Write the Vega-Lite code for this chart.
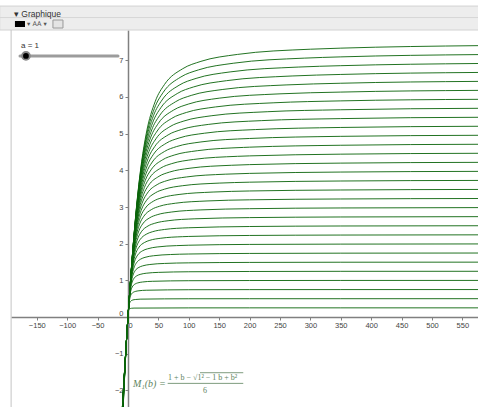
{
  "$schema": "https://vega.github.io/schema/vega-lite/v6.json",
  "width": 467,
  "height": 377,
  "autosize": {"type": "none"},
  "padding": {"left": 11, "top": 30, "right": 0, "bottom": 0},
  "background": "white",
  "config": {"view": {"stroke": null}, "axis": {"labelOverlap": false, "labelSeparation": 0}},
  "layer": [
    {
      "data": {"values": [
{"i":1,"b":-10,"m":-3.256},{"i":1,"b":0,"m":0},{"i":1,"b":0.25,"m":0.058},{"i":1,"b":0.5,"m":0.106},{"i":1,"b":0.75,"m":0.141},{"i":1,"b":1,"m":0.167},{"i":1,"b":1.5,"m":0.196},{"i":1,"b":2,"m":0.211},{"i":1,"b":3,"m":0.226},{"i":1,"b":4,"m":0.232},{"i":1,"b":6,"m":0.239},{"i":1,"b":10,"m":0.243},{"i":1,"b":100,"m":0.249},{"i":1,"b":200,"m":0.250},{"i":1,"b":350,"m":0.250},{"i":1,"b":580,"m":0.250},
{"i":2,"b":-10,"m":-3.189},{"i":2,"b":0,"m":0},{"i":2,"b":0.5,"m":0.116},{"i":2,"b":1,"m":0.211},{"i":2,"b":1.5,"m":0.283},{"i":2,"b":2,"m":0.333},{"i":2,"b":3,"m":0.392},{"i":2,"b":4,"m":0.423},{"i":2,"b":6,"m":0.451},{"i":2,"b":8,"m":0.465},{"i":2,"b":12,"m":0.477},{"i":2,"b":20,"m":0.487},{"i":2,"b":100,"m":0.498},{"i":2,"b":200,"m":0.499},{"i":2,"b":350,"m":0.499},{"i":2,"b":580,"m":0.5},
{"i":3,"b":-10,"m":-3.132},{"i":3,"b":0,"m":0},{"i":3,"b":0.75,"m":0.174},{"i":3,"b":1.5,"m":0.317},{"i":3,"b":2.25,"m":0.424},{"i":3,"b":3,"m":0.5},{"i":3,"b":4.5,"m":0.589},{"i":3,"b":6,"m":0.634},{"i":3,"b":9,"m":0.677},{"i":3,"b":12,"m":0.697},{"i":3,"b":18,"m":0.716},{"i":3,"b":30,"m":0.730},{"i":3,"b":100,"m":0.744},{"i":3,"b":200,"m":0.747},{"i":3,"b":350,"m":0.748},{"i":3,"b":580,"m":0.749},
{"i":4,"b":-10,"m":-3.082},{"i":4,"b":0,"m":0},{"i":4,"b":1,"m":0.232},{"i":4,"b":2,"m":0.423},{"i":4,"b":3,"m":0.566},{"i":4,"b":4,"m":0.667},{"i":4,"b":6,"m":0.785},{"i":4,"b":8,"m":0.845},{"i":4,"b":12,"m":0.903},{"i":4,"b":16,"m":0.930},{"i":4,"b":24,"m":0.955},{"i":4,"b":40,"m":0.974},{"i":4,"b":100,"m":0.990},{"i":4,"b":200,"m":0.995},{"i":4,"b":350,"m":0.997},{"i":4,"b":580,"m":0.998},
{"i":5,"b":-10,"m":-3.038},{"i":5,"b":0,"m":0},{"i":5,"b":1.25,"m":0.291},{"i":5,"b":2.5,"m":0.528},{"i":5,"b":3.75,"m":0.707},{"i":5,"b":5,"m":0.833},{"i":5,"b":7.5,"m":0.981},{"i":5,"b":10,"m":1.057},{"i":5,"b":15,"m":1.129},{"i":5,"b":20,"m":1.162},{"i":5,"b":30,"m":1.194},{"i":5,"b":50,"m":1.217},{"i":5,"b":100,"m":1.234},{"i":5,"b":200,"m":1.242},{"i":5,"b":350,"m":1.246},{"i":5,"b":580,"m":1.247},
{"i":6,"b":-10,"m":-3.0},{"i":6,"b":0,"m":0},{"i":6,"b":1.5,"m":0.349},{"i":6,"b":3,"m":0.634},{"i":6,"b":4.5,"m":0.849},{"i":6,"b":6,"m":1.0},{"i":6,"b":9,"m":1.177},{"i":6,"b":12,"m":1.268},{"i":6,"b":18,"m":1.354},{"i":6,"b":24,"m":1.394},{"i":6,"b":36,"m":1.432},{"i":6,"b":60,"m":1.461},{"i":6,"b":100,"m":1.477},{"i":6,"b":200,"m":1.489},{"i":6,"b":350,"m":1.494},{"i":6,"b":580,"m":1.496},
{"i":7,"b":-10,"m":-2.966},{"i":7,"b":0,"m":0},{"i":7,"b":1.75,"m":0.407},{"i":7,"b":3.5,"m":0.740},{"i":7,"b":5.25,"m":0.990},{"i":7,"b":7,"m":1.167},{"i":7,"b":10.5,"m":1.373},{"i":7,"b":14,"m":1.479},{"i":7,"b":21,"m":1.580},{"i":7,"b":28,"m":1.627},{"i":7,"b":42,"m":1.671},{"i":7,"b":70,"m":1.704},{"i":7,"b":100,"m":1.718},{"i":7,"b":200,"m":1.734},{"i":7,"b":350,"m":1.741},{"i":7,"b":580,"m":1.745},
{"i":8,"b":-10,"m":-2.937},{"i":8,"b":0,"m":0},{"i":8,"b":2,"m":0.465},{"i":8,"b":4,"m":0.845},{"i":8,"b":6,"m":1.131},{"i":8,"b":8,"m":1.333},{"i":8,"b":12,"m":1.569},{"i":8,"b":16,"m":1.691},{"i":8,"b":24,"m":1.806},{"i":8,"b":32,"m":1.859},{"i":8,"b":48,"m":1.910},{"i":8,"b":80,"m":1.947},{"i":8,"b":100,"m":1.958},{"i":8,"b":200,"m":1.980},{"i":8,"b":350,"m":1.988},{"i":8,"b":580,"m":1.993},
{"i":9,"b":-10,"m":-2.910},{"i":9,"b":0,"m":0},{"i":9,"b":2.25,"m":0.523},{"i":9,"b":4.5,"m":0.951},{"i":9,"b":6.75,"m":1.273},{"i":9,"b":9,"m":1.5},{"i":9,"b":13.5,"m":1.766},{"i":9,"b":18,"m":1.902},{"i":9,"b":27,"m":2.031},{"i":9,"b":36,"m":2.092},{"i":9,"b":54,"m":2.148},{"i":9,"b":90,"m":2.191},{"i":9,"b":100,"m":2.197},{"i":9,"b":200,"m":2.224},{"i":9,"b":350,"m":2.235},{"i":9,"b":580,"m":2.241},
{"i":10,"b":-10,"m":-2.887},{"i":10,"b":0,"m":0},{"i":10,"b":2.5,"m":0.581},{"i":10,"b":5,"m":1.057},{"i":10,"b":7.5,"m":1.414},{"i":10,"b":10,"m":1.667},{"i":10,"b":15,"m":1.962},{"i":10,"b":20,"m":2.113},{"i":10,"b":30,"m":2.257},{"i":10,"b":40,"m":2.324},{"i":10,"b":60,"m":2.387},{"i":10,"b":100,"m":2.434},{"i":10,"b":200,"m":2.468},{"i":10,"b":350,"m":2.482},{"i":10,"b":580,"m":2.489},
{"i":11,"b":-10,"m":-2.866},{"i":11,"b":0,"m":0},{"i":11,"b":2.75,"m":0.639},{"i":11,"b":5.5,"m":1.162},{"i":11,"b":8.25,"m":1.556},{"i":11,"b":11,"m":1.833},{"i":11,"b":16.5,"m":2.158},{"i":11,"b":22,"m":2.325},{"i":11,"b":33,"m":2.483},{"i":11,"b":44,"m":2.556},{"i":11,"b":66,"m":2.626},{"i":11,"b":110,"m":2.678},{"i":11,"b":200,"m":2.711},{"i":11,"b":350,"m":2.728},{"i":11,"b":580,"m":2.737},
{"i":12,"b":-10,"m":-2.847},{"i":12,"b":0,"m":0},{"i":12,"b":3,"m":0.697},{"i":12,"b":6,"m":1.268},{"i":12,"b":9,"m":1.697},{"i":12,"b":12,"m":2.0},{"i":12,"b":18,"m":2.354},{"i":12,"b":24,"m":2.536},{"i":12,"b":36,"m":2.708},{"i":12,"b":48,"m":2.789},{"i":12,"b":72,"m":2.864},{"i":12,"b":120,"m":2.921},{"i":12,"b":200,"m":2.954},{"i":12,"b":350,"m":2.974},{"i":12,"b":580,"m":2.984},
{"i":13,"b":-10,"m":-2.829},{"i":13,"b":0,"m":0},{"i":13,"b":3.25,"m":0.755},{"i":13,"b":6.5,"m":1.374},{"i":13,"b":9.75,"m":1.839},{"i":13,"b":13,"m":2.167},{"i":13,"b":19.5,"m":2.550},{"i":13,"b":26,"m":2.747},{"i":13,"b":39,"m":2.934},{"i":13,"b":52,"m":3.021},{"i":13,"b":78,"m":3.103},{"i":13,"b":130,"m":3.165},{"i":13,"b":200,"m":3.196},{"i":13,"b":350,"m":3.219},{"i":13,"b":580,"m":3.232},
{"i":14,"b":-10,"m":-2.813},{"i":14,"b":0,"m":0},{"i":14,"b":3.5,"m":0.813},{"i":14,"b":7,"m":1.479},{"i":14,"b":10.5,"m":1.980},{"i":14,"b":14,"m":2.333},{"i":14,"b":21,"m":2.747},{"i":14,"b":28,"m":2.959},{"i":14,"b":42,"m":3.160},{"i":14,"b":56,"m":3.254},{"i":14,"b":84,"m":3.342},{"i":14,"b":140,"m":3.408},{"i":14,"b":200,"m":3.437},{"i":14,"b":350,"m":3.464},{"i":14,"b":580,"m":3.479},
{"i":15,"b":-10,"m":-2.799},{"i":15,"b":0,"m":0},{"i":15,"b":3.75,"m":0.872},{"i":15,"b":7.5,"m":1.585},{"i":15,"b":11.25,"m":2.122},{"i":15,"b":15,"m":2.5},{"i":15,"b":22.5,"m":2.943},{"i":15,"b":30,"m":3.170},{"i":15,"b":45,"m":3.386},{"i":15,"b":60,"m":3.486},{"i":15,"b":90,"m":3.581},{"i":15,"b":150,"m":3.652},{"i":15,"b":200,"m":3.677},{"i":15,"b":350,"m":3.709},{"i":15,"b":580,"m":3.725},
{"i":16,"b":-10,"m":-2.786},{"i":16,"b":0,"m":0},{"i":16,"b":4,"m":0.930},{"i":16,"b":8,"m":1.691},{"i":16,"b":12,"m":2.263},{"i":16,"b":16,"m":2.667},{"i":16,"b":24,"m":3.139},{"i":16,"b":32,"m":3.381},{"i":16,"b":48,"m":3.611},{"i":16,"b":64,"m":3.719},{"i":16,"b":96,"m":3.819},{"i":16,"b":160,"m":3.895},{"i":16,"b":200,"m":3.917},{"i":16,"b":350,"m":3.953},{"i":16,"b":580,"m":3.972},
{"i":17,"b":-10,"m":-2.774},{"i":17,"b":0,"m":0},{"i":17,"b":4.25,"m":0.988},{"i":17,"b":8.5,"m":1.796},{"i":17,"b":12.75,"m":2.404},{"i":17,"b":17,"m":2.833},{"i":17,"b":25.5,"m":3.335},{"i":17,"b":34,"m":3.593},{"i":17,"b":51,"m":3.837},{"i":17,"b":68,"m":3.951},{"i":17,"b":102,"m":4.058},{"i":17,"b":170,"m":4.138},{"i":17,"b":200,"m":4.156},{"i":17,"b":350,"m":4.197},{"i":17,"b":580,"m":4.218},
{"i":18,"b":-10,"m":-2.763},{"i":18,"b":0,"m":0},{"i":18,"b":4.5,"m":1.046},{"i":18,"b":9,"m":1.902},{"i":18,"b":13.5,"m":2.546},{"i":18,"b":18,"m":3.0},{"i":18,"b":27,"m":3.531},{"i":18,"b":36,"m":3.804},{"i":18,"b":54,"m":4.063},{"i":18,"b":72,"m":4.183},{"i":18,"b":108,"m":4.297},{"i":18,"b":180,"m":4.382},{"i":18,"b":200,"m":4.394},{"i":18,"b":350,"m":4.441},{"i":18,"b":580,"m":4.465},
{"i":19,"b":-10,"m":-2.752},{"i":19,"b":0,"m":0},{"i":19,"b":4.75,"m":1.104},{"i":19,"b":9.5,"m":2.008},{"i":19,"b":14.25,"m":2.687},{"i":19,"b":19,"m":3.167},{"i":19,"b":28.5,"m":3.728},{"i":19,"b":38,"m":4.015},{"i":19,"b":57,"m":4.288},{"i":19,"b":76,"m":4.416},{"i":19,"b":114,"m":4.535},{"i":19,"b":190,"m":4.625},{"i":19,"b":200,"m":4.632},{"i":19,"b":350,"m":4.684},{"i":19,"b":580,"m":4.711},
{"i":20,"b":-10,"m":-2.743},{"i":20,"b":0,"m":0},{"i":20,"b":5,"m":1.162},{"i":20,"b":10,"m":2.113},{"i":20,"b":15,"m":2.829},{"i":20,"b":20,"m":3.333},{"i":20,"b":30,"m":3.924},{"i":20,"b":40,"m":4.227},{"i":20,"b":60,"m":4.514},{"i":20,"b":80,"m":4.648},{"i":20,"b":120,"m":4.774},{"i":20,"b":200,"m":4.869},{"i":20,"b":350,"m":4.927},{"i":20,"b":580,"m":4.956},
{"i":21,"b":-10,"m":-2.734},{"i":21,"b":0,"m":0},{"i":21,"b":5.25,"m":1.220},{"i":21,"b":10.5,"m":2.219},{"i":21,"b":15.75,"m":2.970},{"i":21,"b":21,"m":3.5},{"i":21,"b":31.5,"m":4.120},{"i":21,"b":42,"m":4.438},{"i":21,"b":63,"m":4.740},{"i":21,"b":84,"m":4.881},{"i":21,"b":126,"m":5.013},{"i":21,"b":210,"m":5.112},{"i":21,"b":350,"m":5.169},{"i":21,"b":580,"m":5.202},
{"i":22,"b":-10,"m":-2.726},{"i":22,"b":0,"m":0},{"i":22,"b":5.5,"m":1.278},{"i":22,"b":11,"m":2.325},{"i":22,"b":16.5,"m":3.112},{"i":22,"b":22,"m":3.667},{"i":22,"b":33,"m":4.316},{"i":22,"b":44,"m":4.649},{"i":22,"b":66,"m":4.966},{"i":22,"b":88,"m":5.113},{"i":22,"b":132,"m":5.252},{"i":22,"b":220,"m":5.356},{"i":22,"b":350,"m":5.411},{"i":22,"b":580,"m":5.447},
{"i":23,"b":-10,"m":-2.718},{"i":23,"b":0,"m":0},{"i":23,"b":5.75,"m":1.336},{"i":23,"b":11.5,"m":2.430},{"i":23,"b":17.25,"m":3.253},{"i":23,"b":23,"m":3.833},{"i":23,"b":34.5,"m":4.512},{"i":23,"b":46,"m":4.860},{"i":23,"b":69,"m":5.191},{"i":23,"b":92,"m":5.345},{"i":23,"b":138,"m":5.490},{"i":23,"b":230,"m":5.599},{"i":23,"b":350,"m":5.652},{"i":23,"b":580,"m":5.692},
{"i":24,"b":-10,"m":-2.711},{"i":24,"b":0,"m":0},{"i":24,"b":6,"m":1.394},{"i":24,"b":12,"m":2.536},{"i":24,"b":18,"m":3.394},{"i":24,"b":24,"m":4.0},{"i":24,"b":36,"m":4.708},{"i":24,"b":48,"m":5.072},{"i":24,"b":72,"m":5.417},{"i":24,"b":96,"m":5.578},{"i":24,"b":144,"m":5.729},{"i":24,"b":240,"m":5.842},{"i":24,"b":350,"m":5.894},{"i":24,"b":580,"m":5.937},
{"i":25,"b":-10,"m":-2.704},{"i":25,"b":0,"m":0},{"i":25,"b":6.25,"m":1.453},{"i":25,"b":12.5,"m":2.642},{"i":25,"b":18.75,"m":3.536},{"i":25,"b":25,"m":4.167},{"i":25,"b":37.5,"m":4.905},{"i":25,"b":50,"m":5.283},{"i":25,"b":75,"m":5.643},{"i":25,"b":100,"m":5.810},{"i":25,"b":150,"m":5.968},{"i":25,"b":250,"m":6.086},{"i":25,"b":350,"m":6.134},{"i":25,"b":580,"m":6.181},
{"i":26,"b":-10,"m":-2.698},{"i":26,"b":0,"m":0},{"i":26,"b":6.5,"m":1.511},{"i":26,"b":13,"m":2.747},{"i":26,"b":19.5,"m":3.677},{"i":26,"b":26,"m":4.333},{"i":26,"b":39,"m":5.101},{"i":26,"b":52,"m":5.494},{"i":26,"b":78,"m":5.868},{"i":26,"b":104,"m":6.043},{"i":26,"b":156,"m":6.206},{"i":26,"b":260,"m":6.329},{"i":26,"b":350,"m":6.375},{"i":26,"b":580,"m":6.426},
{"i":27,"b":-10,"m":-2.692},{"i":27,"b":0,"m":0},{"i":27,"b":6.75,"m":1.569},{"i":27,"b":13.5,"m":2.853},{"i":27,"b":20.25,"m":3.819},{"i":27,"b":27,"m":4.5},{"i":27,"b":40.5,"m":5.297},{"i":27,"b":54,"m":5.706},{"i":27,"b":81,"m":6.094},{"i":27,"b":108,"m":6.275},{"i":27,"b":162,"m":6.445},{"i":27,"b":270,"m":6.573},{"i":27,"b":350,"m":6.615},{"i":27,"b":580,"m":6.670},
{"i":28,"b":-10,"m":-2.686},{"i":28,"b":0,"m":0},{"i":28,"b":7,"m":1.627},{"i":28,"b":14,"m":2.959},{"i":28,"b":21,"m":3.960},{"i":28,"b":28,"m":4.667},{"i":28,"b":42,"m":5.493},{"i":28,"b":56,"m":5.917},{"i":28,"b":84,"m":6.320},{"i":28,"b":112,"m":6.507},{"i":28,"b":168,"m":6.684},{"i":28,"b":280,"m":6.816},{"i":28,"b":350,"m":6.854},{"i":28,"b":580,"m":6.914},
{"i":29,"b":-10,"m":-2.681},{"i":29,"b":0,"m":0},{"i":29,"b":7.25,"m":1.685},{"i":29,"b":14.5,"m":3.064},{"i":29,"b":21.75,"m":4.102},{"i":29,"b":29,"m":4.833},{"i":29,"b":43.5,"m":5.689},{"i":29,"b":58,"m":6.128},{"i":29,"b":87,"m":6.546},{"i":29,"b":116,"m":6.740},{"i":29,"b":174,"m":6.922},{"i":29,"b":290,"m":7.060},{"i":29,"b":350,"m":7.094},{"i":29,"b":580,"m":7.157},
{"i":30,"b":-10,"m":-2.676},{"i":30,"b":0,"m":0},{"i":30,"b":7.5,"m":1.743},{"i":30,"b":15,"m":3.170},{"i":30,"b":22.5,"m":4.243},{"i":30,"b":30,"m":5.0},{"i":30,"b":45,"m":5.886},{"i":30,"b":60,"m":6.340},{"i":30,"b":90,"m":6.771},{"i":30,"b":120,"m":6.972},{"i":30,"b":180,"m":7.161},{"i":30,"b":300,"m":7.303},{"i":30,"b":350,"m":7.332},{"i":30,"b":580,"m":7.401}
      ]},
      "mark": {"type": "line", "clip": true, "interpolate": "monotone", "color": "#0a640a", "strokeWidth": 1, "opacity": 0.9},
      "encoding": {
        "x": {
          "field": "b", "type": "quantitative", "title": null,
          "scale": {"domain": [-192.4, 575.7], "nice": false, "zero": false},
          "axis": {
            "values": [-150, -100, -50, 0, 50, 100, 150, 200, 250, 300, 350, 400, 450, 500, 550],
            "tickCount": 30, "format": "d",
            "offset": -90, "title": null, "grid": false,
            "domainColor": "#808080", "domainWidth": 1.5,
            "tickColor": "#808080", "tickSize": 3,
            "labelFont": "Liberation Sans", "labelFontSize": 7.5, "labelColor": "#444444",
            "labelPadding": 1, "labelFlush": false, "labelOverlap": false, "labelBound": false,
            "labelAlign": {"condition": {"test": "datum.value === 0", "value": "left"}, "value": "center"}
          }
        },
        "y": {
          "field": "m", "type": "quantitative", "title": null,
          "scale": {"domain": [-2.454, 7.827], "nice": false, "zero": false},
          "axis": {
            "values": [-2, -1, 0, 1, 2, 3, 4, 5, 6, 7],
            "tickCount": 20, "format": "d",
            "offset": -117, "title": null, "grid": false,
            "domainColor": "#808080", "domainWidth": 1.5,
            "tickColor": "#808080", "tickSize": 3,
            "labelFont": "Liberation Sans", "labelFontSize": 7.5, "labelColor": "#444444",
            "labelPadding": 2, "labelFlush": false, "labelOverlap": false, "labelBound": false,
            "labelBaseline": {"condition": {"test": "datum.value === 0", "value": "bottom"}, "value": "middle"}
          }
        },
        "detail": {"field": "i", "type": "nominal"}
      }
    },
    {
      "data": {"values": [{}]},
      "mark": {"type": "rect", "clip": false, "color": "#ededed", "stroke": "#d2d2d2", "strokeWidth": 1},
      "encoding": {
        "x": {"datum": -211, "type": "quantitative", "title": null},
        "x2": {"datum": 600},
        "y": {"datum": 7.827, "type": "quantitative", "title": null},
        "y2": {"datum": 8.48}
      }
    },
    {
      "data": {"values": [{}]},
      "mark": {"type": "rule", "clip": false, "color": "#d6d6d6", "strokeWidth": 1},
      "encoding": {
        "x": {"datum": -211, "type": "quantitative", "title": null},
        "x2": {"datum": 600},
        "y": {"datum": 8.167, "type": "quantitative", "title": null}
      }
    },
    {
      "data": {"values": [{}]},
      "mark": {"type": "text", "clip": false, "align": "left", "baseline": "middle", "font": "Liberation Sans", "fontSize": 8.5, "color": "#333333"},
      "encoding": {
        "x": {"datum": -187.5, "type": "quantitative", "title": null},
        "y": {"datum": 8.263, "type": "quantitative", "title": null},
        "text": {"value": "▾ Graphique"}
      }
    },
    {
      "data": {"values": [{}]},
      "mark": {"type": "rect", "clip": false, "color": "#000000"},
      "encoding": {
        "x": {"datum": -185.9, "type": "quantitative", "title": null},
        "x2": {"datum": -169.4},
        "y": {"datum": 8.072, "type": "quantitative", "title": null},
        "y2": {"datum": 7.908}
      }
    },
    {
      "data": {"values": [{}]},
      "mark": {"type": "text", "clip": false, "align": "left", "baseline": "middle", "font": "DejaVu Sans", "fontSize": 6.5, "color": "#555555"},
      "encoding": {
        "x": {"datum": -166, "type": "quantitative", "title": null},
        "y": {"datum": 7.99, "type": "quantitative", "title": null},
        "text": {"value": "▾  AA ▾"}
      }
    },
    {
      "data": {"values": [{}]},
      "mark": {"type": "rect", "clip": false, "color": "#e4e4e4", "stroke": "#9a9a9a", "strokeWidth": 1},
      "encoding": {
        "x": {"datum": -123.4, "type": "quantitative", "title": null},
        "x2": {"datum": -106.9},
        "y": {"datum": 8.099, "type": "quantitative", "title": null},
        "y2": {"datum": 7.881}
      }
    },
    {
      "data": {"values": [{}]},
      "mark": {"type": "rule", "color": "#c4c4c4", "strokeWidth": 1},
      "encoding": {
        "x": {"datum": -192.2, "type": "quantitative", "title": null}
      }
    },
    {
      "data": {"values": [{}]},
      "mark": {"type": "rule", "clip": false, "color": "#9c9c9c", "strokeWidth": 3, "strokeCap": "round"},
      "encoding": {
        "x": {"datum": -177.6, "type": "quantitative", "title": null},
        "x2": {"datum": -16.4},
        "y": {"datum": 7.12, "type": "quantitative", "title": null}
      }
    },
    {
      "data": {"values": [{}]},
      "mark": {"type": "point", "filled": true, "color": "#000000", "stroke": "#888888", "strokeWidth": 2, "size": 60, "opacity": 1},
      "encoding": {
        "x": {"datum": -167.8, "type": "quantitative", "title": null},
        "y": {"datum": 7.12, "type": "quantitative", "title": null}
      }
    },
    {
      "data": {"values": [{}]},
      "mark": {"type": "text", "align": "left", "baseline": "middle", "font": "Liberation Sans", "fontSize": 8, "color": "#333333"},
      "encoding": {
        "x": {"datum": -176, "type": "quantitative", "title": null},
        "y": {"datum": 7.39, "type": "quantitative", "title": null},
        "text": {"value": "a = 1"}
      }
    },
    {
      "data": {"values": [{}]},
      "mark": {"type": "text", "align": "left", "baseline": "middle", "font": "Liberation Serif", "fontStyle": "italic", "fontSize": 10, "color": "#5e835e"},
      "encoding": {
        "x": {"datum": 8.2, "type": "quantitative", "title": null},
        "y": {"datum": -1.827, "type": "quantitative", "title": null},
        "text": {"value": "M₁(b)  ="}
      }
    },
    {
      "data": {"values": [{}]},
      "mark": {"type": "text", "align": "left", "baseline": "middle", "font": "Liberation Serif", "fontSize": 8, "color": "#5e835e"},
      "encoding": {
        "x": {"datum": 65.8, "type": "quantitative", "title": null},
        "y": {"datum": -1.67, "type": "quantitative", "title": null},
        "text": {"value": "1 + b − √1² − 1 b + b²"}
      }
    },
    {
      "data": {"values": [{}]},
      "mark": {"type": "rule", "clip": false, "color": "#5e835e", "strokeWidth": 0.8},
      "encoding": {
        "x": {"datum": 118.4, "type": "quantitative", "title": null},
        "x2": {"datum": 189.6},
        "y": {"datum": -1.519, "type": "quantitative", "title": null}
      }
    },
    {
      "data": {"values": [{}]},
      "mark": {"type": "rule", "clip": false, "color": "#5e835e", "strokeWidth": 0.8},
      "encoding": {
        "x": {"datum": 65.3, "type": "quantitative", "title": null},
        "x2": {"datum": 189.6},
        "y": {"datum": -1.81, "type": "quantitative", "title": null}
      }
    },
    {
      "data": {"values": [{}]},
      "mark": {"type": "text", "align": "center", "baseline": "middle", "font": "Liberation Serif", "fontSize": 8, "color": "#5e835e"},
      "encoding": {
        "x": {"datum": 126.6, "type": "quantitative", "title": null},
        "y": {"datum": -2.01, "type": "quantitative", "title": null},
        "text": {"value": "6"}
      }
    }
  ]
}
